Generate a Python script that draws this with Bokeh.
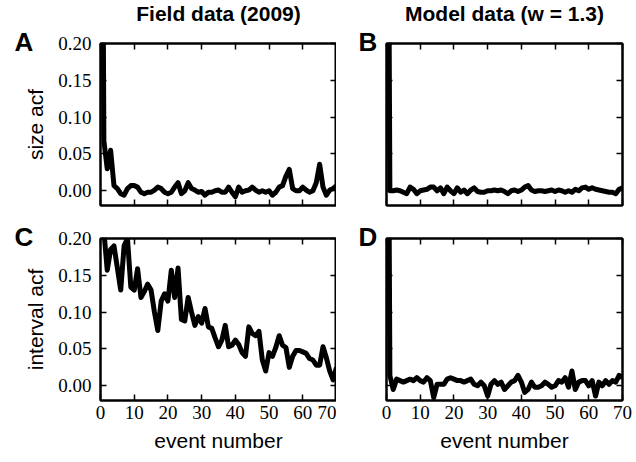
from bokeh.plotting import figure
from bokeh.layouts import column, row
from bokeh.models import LinearAxis, Label, FixedTicker, PrintfTickFormatter, Range1d, CustomJSTickFormatter
from bokeh.embed import file_html
from bokeh.resources import INLINE

lags = list(range(71))

size_acf_field = [1.0, 0.068, 0.030, 0.055, 0.007, 0.003, -0.004, -0.006, 0.003, 0.007,
                  0.007, 0.005, -0.002, -0.004, -0.002, -0.002, 0.001, 0.005, 0.003, -0.002,
                  -0.004, -0.002, 0.005, 0.011, -0.004, 0.000, 0.011, 0.003, 0.001, -0.002,
                  -0.001, -0.006, -0.002, -0.002, 0.000, 0.001, -0.002, -0.002, 0.005, -0.002,
                  -0.008, 0.005, -0.002, 0.000, 0.001, 0.005, 0.001, -0.002, 0.000, -0.002,
                  0.000, -0.006, -0.002, 0.005, 0.007, 0.020, 0.029, 0.003, 0.000, 0.000,
                  0.005, 0.001, -0.002, 0.000, 0.011, 0.036, 0.005, -0.006, 0.001, 0.003,
                  0.007]

size_acf_model = [1.0, 0.000, 0.000, 0.001, 0.000, -0.002, -0.004, 0.005, 0.002, -0.004,
                  0.000, 0.001, 0.002, 0.005, 0.005, 0.000, 0.004, -0.004, 0.005, 0.000,
                  -0.004, 0.004, -0.002, 0.001, -0.004, 0.001, 0.004, -0.001, -0.002, -0.002,
                  0.000, 0.000, 0.001, 0.000, 0.001, -0.001, -0.004, 0.000, 0.001, -0.001,
                  0.001, 0.005, 0.007, 0.001, -0.001, 0.000, 0.000, -0.001, 0.000, 0.001,
                  -0.001, 0.001, 0.000, -0.002, 0.000, -0.002, 0.002, 0.000, 0.004, 0.005,
                  0.002, 0.004, 0.002, 0.001, 0.000, -0.001, -0.002, -0.002, -0.004, 0.002,
                  0.004]

interval_acf_field = [1.0, 0.210, 0.157, 0.185, 0.190, 0.160, 0.130, 0.190, 0.200, 0.134,
                      0.130, 0.159, 0.120, 0.128, 0.138, 0.130, 0.100, 0.075, 0.115, 0.125,
                      0.115, 0.157, 0.120, 0.160, 0.090, 0.088, 0.120, 0.100, 0.082, 0.094,
                      0.085, 0.105, 0.080, 0.078, 0.065, 0.053, 0.062, 0.082, 0.053, 0.055,
                      0.062, 0.056, 0.045, 0.040, 0.080, 0.071, 0.068, 0.074, 0.035, 0.020,
                      0.045, 0.040, 0.052, 0.068, 0.055, 0.052, 0.025, 0.040, 0.048, 0.048,
                      0.046, 0.044, 0.037, 0.035, 0.028, 0.028, 0.053, 0.038, 0.020, 0.008,
                      0.025]

interval_acf_model = [1.0, 0.014, -0.005, 0.009, 0.007, 0.005, 0.007, 0.009, 0.007, 0.011,
                      0.007, 0.005, 0.011, 0.007, -0.016, 0.002, 0.002, 0.002, 0.009, 0.011,
                      0.009, 0.007, 0.007, 0.005, 0.007, 0.009, 0.002, 0.000, 0.005, 0.000,
                      -0.014, 0.002, 0.007, 0.002, 0.005, -0.005, 0.000, 0.005, 0.007, 0.014,
                      0.005, -0.009, -0.005, 0.005, -0.002, -0.002, 0.000, 0.005, 0.002, -0.002,
                      0.000, 0.007, 0.005, 0.011, -0.002, 0.020, -0.005, 0.005, 0.007, 0.007,
                      0.000, 0.007, -0.014, 0.005, 0.000, 0.007, 0.002, 0.007, 0.005, 0.014,
                      0.011]

x_ticks = [0, 10, 20, 30, 40, 50, 60, 70]
y_ticks = [0.0, 0.05, 0.10, 0.15, 0.20]

titles = ["Field data (2009)", "Model data (w = 1.3)"]
letters = ["A", "B", "C", "D"]
ylabels = ["size acf", "interval acf"]
xlabel = "event number"

SERIF = "Liberation Serif"
SANS = "Liberation Sans"
BLANK = CustomJSTickFormatter(code="return ''")


def style(ax, ticks, labels):
    ax.ticker = FixedTicker(ticks=ticks)
    ax.major_tick_in = 6
    ax.major_tick_out = 0
    ax.minor_tick_line_color = None
    ax.axis_line_color = "black"
    ax.axis_line_width = 2
    ax.major_tick_line_width = 1.5
    ax.major_tick_line_color = "black"
    if not labels:
        ax.formatter = BLANK
        ax.major_label_standoff = 0
    else:
        ax.major_label_text_font = SERIF
        ax.major_label_text_font_size = "19px"
        ax.major_label_text_color = "black"


def make(vals, letter, top, left, title=None, ylabel=None):
    p = figure(frame_width=236, frame_height=162,
               x_range=Range1d(0, 70), y_range=Range1d(-0.02, 0.20),
               output_backend="svg", toolbar_location=None,
               min_border_left=100 if left else 50,
               min_border_right=0 if left else 10,
               min_border_top=43 if top else 18,
               min_border_bottom=15 if top else 50,
               x_axis_location=None, y_axis_location=None)
    p.background_fill_color = "white"
    p.border_fill_color = "white"
    p.outline_line_color = "black"
    p.outline_line_width = 2
    p.grid.visible = False

    xb = LinearAxis()
    style(xb, x_ticks, not top)
    if not top:
        xb.major_label_standoff = 5
        xb.axis_label = xlabel
        xb.axis_label_text_font = SANS
        xb.axis_label_text_font_size = "21px"
        xb.axis_label_text_font_style = "normal"
        xb.axis_label_text_color = "black"
        xb.axis_label_standoff = 7
    p.add_layout(xb, "below")
    xa = LinearAxis()
    style(xa, x_ticks, False)
    p.add_layout(xa, "above")

    yl = LinearAxis()
    style(yl, y_ticks, left)
    if left:
        yl.formatter = PrintfTickFormatter(format="%.2f")
        yl.major_label_standoff = 9
        yl.axis_label = ylabel
        yl.axis_label_text_font = SANS
        yl.axis_label_text_font_size = "21px"
        yl.axis_label_text_font_style = "normal"
        yl.axis_label_text_color = "black"
        yl.axis_label_standoff = 8
    p.add_layout(yl, "left")
    yr = LinearAxis()
    style(yr, y_ticks, False)
    p.add_layout(yr, "right")

    if title is not None:
        head = Label(x=118, y=19, x_units="screen", y_units="screen",
                     text=title, text_align="center", text_baseline="bottom",
                     text_font=SANS, text_font_size="21px",
                     text_font_style="bold", text_color="black")
        p.add_layout(head, "above")

    p.line(lags, vals, line_color="black", line_width=5, line_join="round")

    lbl = Label(x=12 if left else -9, y=149, x_units="screen", y_units="screen",
                text=letter, text_font=SANS, text_font_size="26px",
                text_baseline="bottom",
                text_font_style="bold", text_color="black")
    p.add_layout(lbl, "left")
    return p


pa = make(size_acf_field, letters[0], True, True, titles[0], ylabels[0])
pb = make(size_acf_model, letters[1], True, False, titles[1])
pc = make(interval_acf_field, letters[2], False, True, None, ylabels[1])
pd = make(interval_acf_model, letters[3], False, False)

layout = column(row(pa, pb), row(pc, pd))
open("out.html", "w").write(file_html(layout, INLINE))
